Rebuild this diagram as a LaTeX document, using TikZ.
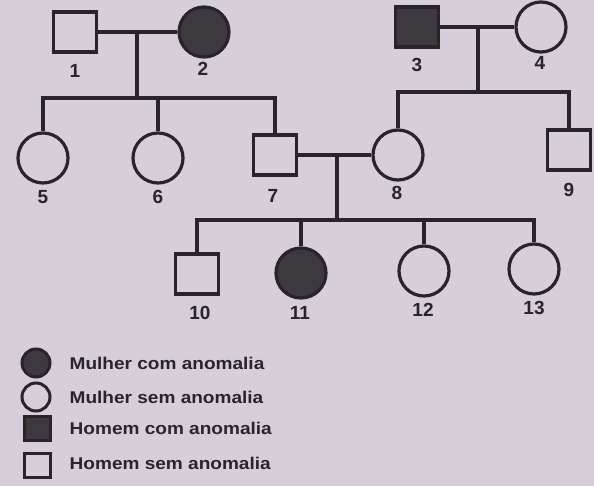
\documentclass[tikz,border=0pt]{standalone}
\usepackage{fontspec}
\setmainfont{Liberation Sans}
\definecolor{bg}{RGB}{214,207,217}
\definecolor{ink}{RGB}{40,36,42}
\definecolor{shade}{RGB}{62,57,63}
\begin{document}
\begin{tikzpicture}[x=1pt,y=-1pt,
  line width=3.4pt, draw=ink,
  fem/.style={circle, draw=ink, fill=bg, minimum size=50pt, inner sep=0pt, line width=3.2pt},
  mal/.style={rectangle, draw=ink, fill=bg, minimum width=43pt, minimum height=40pt, inner sep=0pt, line width=3.2pt},
  aff/.style={fill=shade},
  num/.style={text=ink, font=\fontsize{19}{19}\selectfont\bfseries, inner sep=0pt},
  lfem/.style={circle, draw=ink, fill=bg, minimum size=28pt, inner sep=0pt, line width=3pt},
  lmal/.style={rectangle, draw=ink, fill=bg, minimum width=26pt, minimum height=24pt, inner sep=0pt, line width=3pt},
  leg/.style={text=ink, font=\fontsize{17}{17}\selectfont\bfseries, anchor=west, inner sep=0pt}]
\fill[bg] (0,0) rectangle (594,486);
\useasboundingbox (0,0) rectangle (594,486);
% generation I
\node[mal] (n1) at (75,32) {};
\node[fem,aff] (n2) at (204,32) {};
\node[mal,aff] (n3) at (417,27) {};
\node[fem] (n4) at (541,27) {};
% generation II
\node[fem] (n5) at (43,158) {};
\node[fem] (n6) at (158,158) {};
\node[mal] (n7) at (275,155) {};
\node[fem] (n8) at (398,155) {};
\node[mal] (n9) at (569,150) {};
% generation III
\node[mal] (n10) at (197,274) {};
\node[fem,aff] (n11) at (301,273) {};
\node[fem] (n12) at (424,271) {};
\node[fem] (n13) at (534,269) {};
% labels
\node[num] (l1) at (75,71) {1};
\node[num] (l2) at (203,69) {2};
\node[num] (l3) at (417,65) {3};
\node[num] (l4) at (540,63) {4};
\node[num] (l5) at (43,197) {5};
\node[num] (l6) at (158,197) {6};
\node[num] (l7) at (273,196) {7};
\node[num] (l8) at (397,193) {8};
\node[num] (l9) at (569,190) {9};
\node[num] (l10) at (200,313) {10};
\node[num] (l11) at (300,313) {11};
\node[num] (l12) at (423,310) {12};
\node[num] (l13) at (534,308) {13};
% coordinates
\coordinate (m12) at (137,32);
\coordinate (s12) at (137,98);
\coordinate (m34) at (478,27);
\coordinate (s34) at (478,92);
\coordinate (m78) at (337,155);
\coordinate (s78) at (337,220);
% lines family 1-2
\draw (n1.east) -- (n2.west);
\draw (m12) -- (s12);
\draw (n5.north) -- (n5.north |- s12) -- (n7.north |- s12) -- (n7.north);
\draw (n6.north) -- (n6.north |- s12);
% family 3-4
\draw (n3.east) -- (n4.west);
\draw (m34) -- (s34);
\draw (n8.north) -- (n8.north |- s34) -- (n9.north |- s34) -- (n9.north);
% family 7-8
\draw (n7.east) -- (n8.west);
\draw (m78) -- (s78);
\draw (n10.north) -- (n10.north |- s78) -- (n13.north |- s78) -- (n13.north);
\draw (n11.north) -- (n11.north |- s78);
\draw (n12.north) -- (n12.north |- s78);
% legend
\node[lfem,aff] (k1) at (36,363) {};
\node[lfem] (k2) at (36,397) {};
\node[lmal,aff] (k3) at (37,428) {};
\node[lmal] (k4) at (37,465) {};
\node[leg] (t1) at (68,363) {\addfontfeature{FakeStretch=1.12}Mulher com anomalia};
\node[leg] (t2) at (68,397) {\addfontfeature{FakeStretch=1.12}Mulher sem anomalia};
\node[leg] (t3) at (68,428) {\addfontfeature{FakeStretch=1.12}Homem com anomalia};
\node[leg] (t4) at (68,463) {\addfontfeature{FakeStretch=1.12}Homem sem anomalia};
\end{tikzpicture}
\end{document}
